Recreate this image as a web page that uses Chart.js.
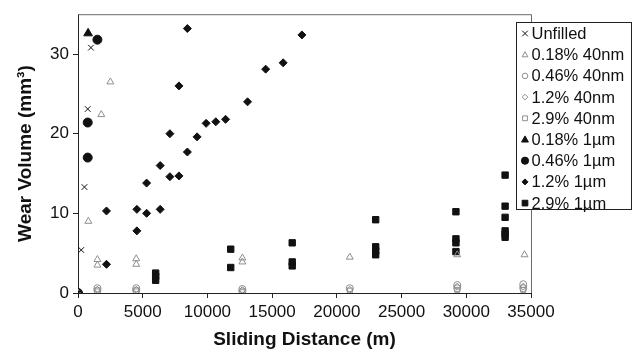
<!DOCTYPE html>
<html>
<head>
<meta charset="utf-8">
<script src="https://cdn.jsdelivr.net/npm/chart.js@4/dist/chart.umd.min.js"></script>
<style>
  html, body { margin: 0; padding: 0; background: #fff; }
  #wrap { width: 637px; height: 351px; }
</style>
</head>
<body>
<div id="wrap"><canvas id="myChart" width="637" height="351"></canvas></div>
<script>
// sliding distance (m), wear volume (mm3) pairs
const unfilled = [[0, 0], [250, 5.4], [500, 13.3], [750, 23.1], [1000, 30.8]];
const p018nm = [[0, 0], [800, 9.0], [1500, 4.2], [1500, 3.5], [1800, 22.4], [2500, 26.5],
    [4500, 4.3], [4500, 3.6], [12700, 4.4], [12700, 3.9], [21000, 4.5], [29300, 4.8], [34500, 4.8]];
const p046nm = [[1500, 0.3], [1500, 0.6], [4500, 0.3], [4500, 0.6], [12700, 0.2], [12700, 0.5],
    [21000, 0.6], [29300, 0.6], [29300, 1.0], [34400, 0.6], [34400, 1.1]];
const p12nm = [[1500, 0.4], [4500, 0.4], [12700, 0.35], [21000, 0.4], [29300, 0.8], [34400, 0.8]];
const p29nm = [[1500, 0.2], [4500, 0.2], [12700, 0.1], [21000, 0.3], [29300, 0.4], [34400, 0.4]];
const p018um = [[0, 0], [780, 32.6]];
const p046um = [[0, 0], [750, 17.0], [750, 21.4], [1500, 31.8]];
const p12um = [[2200, 3.6], [2200, 10.3], [4550, 7.8], [4550, 10.5], [5300, 10.0], [5300, 13.8],
    [6350, 10.5], [6350, 16.0], [7100, 14.6], [7100, 20.0], [7800, 14.7], [7800, 26.0],
    [8450, 17.7], [8450, 33.2], [9200, 19.6], [9900, 21.3], [10650, 21.5], [11400, 21.8],
    [13100, 24.0], [14500, 28.1], [15850, 28.9], [17300, 32.4]];
const p29um = [[6000, 1.6], [6000, 2.1], [6000, 2.5], [11800, 3.2], [11800, 5.5],
    [16550, 3.4], [16550, 3.9], [16550, 6.3], [23000, 4.8], [23000, 5.3], [23000, 5.8], [23000, 9.2],
    [29200, 5.2], [29200, 6.3], [29200, 6.8], [29200, 10.2],
    [33000, 7.0], [33000, 7.4], [33000, 7.8], [33000, 9.5], [33000, 10.9], [33000, 14.8]];

const xTicks = [0, 5000, 10000, 15000, 20000, 25000, 30000, 35000];
const yTicks = [0, 10, 20, 30];

const gray = '#8e8e8e';
const black = '#111';

function pts(arr) {
    return arr.map(p => ({ x: p[0], y: p[1] }));
}

function series(label, arr, style, color, filled, r, legendR) {
    return {
        label: label,
        data: pts(arr),
        pointStyle: style,
        pointRadius: r,
        pointHoverRadius: r,
        borderColor: color,
        backgroundColor: filled ? color : 'rgba(255,255,255,0)',
        borderWidth: 1,
        legendR: legendR
    };
}

const datasets = [
    series('Unfilled', unfilled, 'crossRot', black, false, 4, 2.8),
    series('0.18% 40nm', p018nm, 'triangle', gray, false, 4, 3),
    series('0.46% 40nm', p046nm, 'circle', gray, false, 3.5, 2.8),
    series('1.2% 40nm', p12nm, 'rectRot', gray, false, 3.5, 2.8),
    series('2.9% 40nm', p29nm, 'rect', gray, false, 3.5, 3.2),
    series('0.18% 1\u00b5m', p018um, 'triangle', black, true, 5, 3.6),
    series('0.46% 1\u00b5m', p046um, 'circle', black, true, 4.5, 3.6),
    series('1.2% 1\u00b5m', p12um, 'rectRot', black, true, 4, 3),
    series('2.9% 1\u00b5m', p29um, 'rect', black, true, 4.5, 3.8)
];

function marker(ctx, style, x, y, r, color, filled) {
    ctx.save();
    ctx.beginPath();
    ctx.strokeStyle = color;
    ctx.fillStyle = color;
    ctx.lineWidth = 1;
    if (style === 'crossRot') {
        ctx.moveTo(x - r, y - r); ctx.lineTo(x + r, y + r);
        ctx.moveTo(x - r, y + r); ctx.lineTo(x + r, y - r);
        ctx.stroke();
        ctx.restore();
        return;
    }
    if (style === 'circle') {
        ctx.arc(x, y, r, 0, Math.PI * 2);
    } else if (style === 'triangle') {
        ctx.moveTo(x, y - r);
        ctx.lineTo(x + r * 0.95, y + r * 0.7);
        ctx.lineTo(x - r * 0.95, y + r * 0.7);
        ctx.closePath();
    } else if (style === 'rectRot') {
        ctx.moveTo(x, y - r); ctx.lineTo(x + r, y); ctx.lineTo(x, y + r); ctx.lineTo(x - r, y);
        ctx.closePath();
    } else {
        ctx.rect(x - r * 0.75, y - r * 0.75, r * 1.5, r * 1.5);
    }
    if (filled) ctx.fill();
    ctx.stroke();
    ctx.restore();
}

const framePlugin = {
    id: 'frame',
    afterDatasetsDraw(chart) {
        const a = chart.chartArea;
        const ctx = chart.ctx;
        ctx.save();
        ctx.strokeStyle = '#6a6a6a';
        ctx.lineWidth = 1;
        ctx.beginPath();
        ctx.moveTo(a.left, a.top + 0.5);
        ctx.lineTo(a.right + 0.5, a.top + 0.5);
        ctx.lineTo(a.right + 0.5, a.bottom);
        ctx.stroke();
        ctx.restore();
    },
    afterDraw(chart) {
        // boxed legend sitting over the right edge of the plot
        const ctx = chart.ctx;
        const left = 516, top = 22, w = 115, h = 187;
        ctx.save();
        ctx.fillStyle = '#fff';
        ctx.fillRect(left, top, w, h);
        ctx.strokeStyle = '#222';
        ctx.lineWidth = 1;
        ctx.strokeRect(left + 0.5, top + 0.5, w, h);
        ctx.font = '16.5px "Liberation Sans", Arial, sans-serif';
        ctx.textBaseline = 'middle';
        ctx.fillStyle = '#111';
        chart.data.datasets.forEach((ds, i) => {
            const y = 33.5 + i * 21.2;
            const filled = ds.backgroundColor !== 'rgba(255,255,255,0)';
            marker(ctx, ds.pointStyle, 525, y, ds.legendR, ds.borderColor, filled);
            ctx.fillStyle = '#111';
            ctx.fillText(ds.label, 531.5, y + 1);
        });
        ctx.restore();
    }
};

const tickFont = { family: '"Liberation Sans", Arial, sans-serif', size: 17 };
const titleFont = { family: '"Liberation Sans", Arial, sans-serif', size: 19, weight: 'bold' };

const config = {
    type: 'scatter',
    data: { datasets: datasets },
    options: {
        responsive: false,
        animation: false,
        events: [],
        layout: { padding: { left: 0, top: 13, right: 106, bottom: 0 } },
        plugins: {
            legend: { display: false },
            tooltip: { enabled: false }
        },
        scales: {
            x: {
                type: 'linear',
                min: 0,
                max: 35000,
                afterBuildTicks: s => { s.ticks = xTicks.map(v => ({ value: v })); },
                afterFit: s => { s.height = 58; },
                grid: { drawOnChartArea: false, tickLength: 5, color: '#222' },
                border: { color: '#222', width: 1 },
                ticks: { font: tickFont, color: '#111', padding: 4, maxRotation: 0, autoSkip: false,
                    callback: v => String(v) },
                title: { display: true, text: 'Sliding Distance (m)', font: titleFont, color: '#111', padding: { top: 0, bottom: 0 } }
            },
            y: {
                type: 'linear',
                min: 0,
                max: 35,
                afterBuildTicks: s => { s.ticks = yTicks.map(v => ({ value: v })); },
                afterFit: s => { s.width = 78; },
                grid: { drawOnChartArea: false, tickLength: 5, color: '#222' },
                border: { color: '#222', width: 1 },
                ticks: { font: tickFont, color: '#111', padding: 4, callback: v => String(v) },
                title: { display: true, text: 'Wear Volume (mm\u00b3)', font: titleFont, color: '#111', padding: { top: 14, bottom: 0 } }
            }
        }
    },
    plugins: [framePlugin]
};

const myChart = new Chart(document.getElementById('myChart'), config);
</script>
</body>
</html>
